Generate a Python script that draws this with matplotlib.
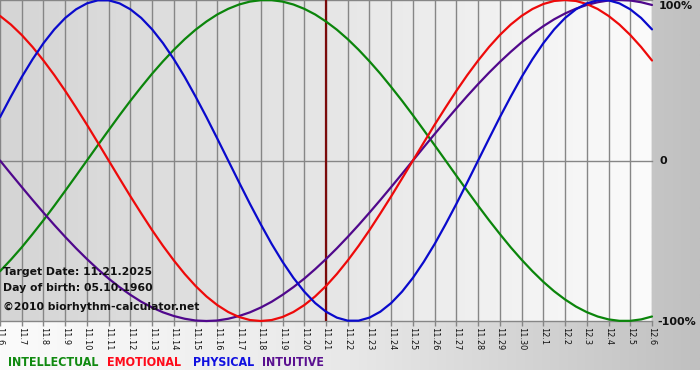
import numpy as np
import matplotlib
matplotlib.use("Agg")
import matplotlib.pyplot as plt
from matplotlib.colors import LinearSegmentedColormap

dates = ["11.6", "11.7", "11.8", "11.9", "11.10", "11.11", "11.12", "11.13", "11.14",
         "11.15", "11.16", "11.17", "11.18", "11.19", "11.20", "11.21", "11.22", "11.23",
         "11.24", "11.25", "11.26", "11.27", "11.28", "11.29", "11.30", "12.1", "12.2",
         "12.3", "12.4", "12.5", "12.6"]
intellectual = [-0.690, -0.618, -0.541, -0.458, -0.372, -0.282, -0.189, -0.095, 0.000,
                0.095, 0.189, 0.282, 0.372, 0.458, 0.541, 0.618, 0.690, 0.756, 0.815,
                0.866, 0.910, 0.945, 0.972, 0.990, 0.999, 0.999, 0.990, 0.972, 0.945,
                0.910, 0.866, 0.815, 0.756, 0.690, 0.618, 0.541, 0.458, 0.372, 0.282,
                0.189, 0.095, 0.000, -0.095, -0.189, -0.282, -0.372, -0.458, -0.541,
                -0.618, -0.690, -0.756, -0.815, -0.866, -0.910, -0.945, -0.972, -0.990,
                -0.999, -0.999, -0.990, -0.972]
emotional = [0.901, 0.847, 0.782, 0.707, 0.623, 0.532, 0.434, 0.330, 0.223, 0.112, 0.000,
             -0.112, -0.223, -0.330, -0.434, -0.532, -0.623, -0.707, -0.782, -0.847,
             -0.901, -0.944, -0.975, -0.994, -1.000, -0.994, -0.975, -0.944, -0.901,
             -0.847, -0.782, -0.707, -0.623, -0.532, -0.434, -0.330, -0.223, -0.112,
             0.000, 0.112, 0.223, 0.330, 0.434, 0.532, 0.623, 0.707, 0.782, 0.847, 0.901,
             0.944, 0.975, 0.994, 1.000, 0.994, 0.975, 0.944, 0.901, 0.847, 0.782, 0.707,
             0.623]
physical = [0.270, 0.398, 0.520, 0.631, 0.731, 0.817, 0.888, 0.942, 0.979, 0.998, 0.998,
            0.979, 0.942, 0.888, 0.817, 0.731, 0.631, 0.520, 0.398, 0.270, 0.136, 0.000,
            -0.136, -0.270, -0.398, -0.520, -0.631, -0.731, -0.817, -0.888, -0.942,
            -0.979, -0.998, -0.998, -0.979, -0.942, -0.888, -0.817, -0.731, -0.631,
            -0.520, -0.398, -0.270, -0.136, 0.000, 0.136, 0.270, 0.398, 0.520, 0.631,
            0.731, 0.817, 0.888, 0.942, 0.979, 0.998, 0.998, 0.979, 0.942, 0.888, 0.817]
intuitive = [0.000, -0.083, -0.165, -0.246, -0.325, -0.402, -0.476, -0.547, -0.614,
             -0.677, -0.736, -0.789, -0.837, -0.880, -0.916, -0.946, -0.969, -0.986,
             -0.997, -1.000, -0.997, -0.986, -0.969, -0.946, -0.916, -0.880, -0.837,
             -0.789, -0.736, -0.677, -0.614, -0.547, -0.476, -0.402, -0.325, -0.246,
             -0.165, -0.083, 0.000, 0.083, 0.165, 0.246, 0.325, 0.402, 0.476, 0.547,
             0.614, 0.677, 0.736, 0.789, 0.837, 0.880, 0.916, 0.946, 0.969, 0.986, 0.997,
             1.000, 0.997, 0.986, 0.969]
target_date = "11.21"
y_labels = ["100%", "0", "-100%"]
y_label_values = [1, 0, -1]
legend_names = ["INTELLECTUAL", "EMOTIONAL", "PHYSICAL", "INTUITIVE"]
info_lines = ["Target Date: 11.21.2025", "Day of birth: 05.10.1960",
              "\u00a92010 biorhythm-calculator.net"]

# ---- styling ----
W, H = 700, 380
colors = {"INTELLECTUAL": "#0b850b", "EMOTIONAL": "#ee0a0a",
          "PHYSICAL": "#0a0acc", "INTUITIVE": "#50088c"}
legend_colors = {"INTELLECTUAL": "#108a10", "EMOTIONAL": "#ff0a1a",
                 "PHYSICAL": "#1010e0", "INTUITIVE": "#5a1090"}

fig = plt.figure(figsize=(W / 100, H / 100), dpi=100)
fig.patch.set_facecolor("white")

# outer background gradient
bg = fig.add_axes([0, 0, 1, 1])
bg.set_xlim(0, W)
bg.set_ylim(H, 0)
bg.axis("off")
outer = LinearSegmentedColormap.from_list("outer", ["#fbfbfb", "#e8e8e8", "#c0c0c0"])
bg.imshow(np.linspace(0, 1, 256)[None, :], cmap=outer, aspect="auto",
          extent=[0, W, 370, 0], zorder=0)

# plot axes
plot_right = 652
plot_bottom = 321
ax = fig.add_axes([0, 1 - plot_bottom / H, plot_right / W, plot_bottom / H])
ax.patch.set_alpha(0)
n = len(dates)
xs = np.arange(n)
ax.set_xlim(0, n - 1)
ax.set_ylim(-1, 1)

inner = LinearSegmentedColormap.from_list("inner", ["#d5d5d5", "#e6e6e6", "#fbfbfb"])
ax.imshow(np.linspace(0, 1, 256)[None, :], cmap=inner, aspect="auto",
          extent=[0, n - 1, -1, 1], zorder=0)

for x in xs:
    ax.axvline(x, color="#868686", lw=1.0, zorder=1)
for yv in y_label_values:
    ax.axhline(yv, color="#868686", lw=1.0, zorder=1, clip_on=False)

ti = dates.index(target_date)
ax.axvline(ti, color="#7a0a0a", lw=1.6, zorder=2)

series = {"INTELLECTUAL": intellectual, "EMOTIONAL": emotional,
          "PHYSICAL": physical, "INTUITIVE": intuitive}
for name in ["INTELLECTUAL", "INTUITIVE", "EMOTIONAL", "PHYSICAL"]:
    vals = series[name]
    sx = np.linspace(0, n - 1, len(vals))
    ax.plot(sx, vals, color=colors[name], lw=1.6, zorder=3,
            solid_joinstyle="round", solid_capstyle="round", clip_on=False)

for s in ax.spines.values():
    s.set_visible(False)
ax.set_yticks([])
ax.set_xticks(xs)
ax.set_xticklabels(dates, rotation=-90, fontsize=5.9, family="DejaVu Sans",
                   color="#111111")
ax.tick_params(axis="x", length=3.5, width=1, color="#868686", pad=0.8)


def fx(px):
    return px / W


def fy(py):
    return 1 - py / H


# right labels
label_pos = [(659, 6), (659, 161), (657, 322)]
for txt, (px, py) in zip(y_labels, label_pos):
    fig.text(fx(px), fy(py), txt, fontsize=8, fontweight="bold", color="#111111",
             ha="left", va="center", family="DejaVu Sans")

# info text
for txt, py in zip(info_lines, [272, 288, 307]):
    fig.text(fx(3), fy(py), txt, fontsize=7.85, fontweight="bold", color="#111111",
             ha="left", va="center", family="DejaVu Sans")

# legend text row
leg_x = [8, 107, 193, 262]
for name, px in zip(legend_names, leg_x):
    fig.text(fx(px), fy(362), name, fontsize=8.9, fontweight="bold",
             color=legend_colors[name], ha="left", va="center",
             family="DejaVu Sans", stretch="condensed")

fig.savefig("out.png", dpi=100)
